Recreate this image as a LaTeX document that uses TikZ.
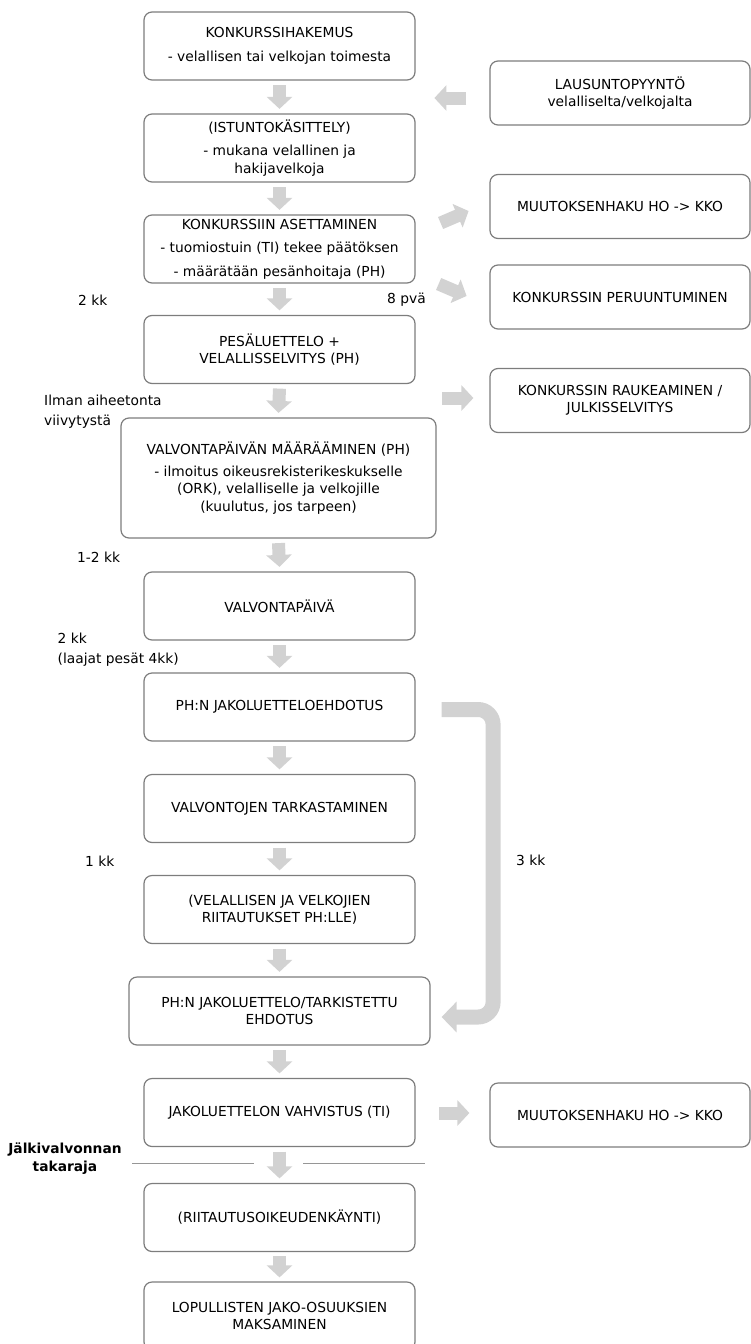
\documentclass[tikz,border=0pt]{standalone}
\usepackage{fontspec}
\setmainfont{DejaVu Sans}
\usetikzlibrary{arrows.meta}

\definecolor{boxline}{RGB}{125,125,125}
\definecolor{arrowfill}{RGB}{210,210,210}
\definecolor{sepline}{RGB}{150,150,150}

\tikzset{
  stage/.style={draw=boxline, line width=1.2pt, rounded corners=8pt,
    minimum width=271pt, minimum height=68pt, inner sep=3pt, align=center,
    font=\fontsize{13.8}{17.5}\selectfont},
  sidebox/.style={stage, minimum width=260pt, minimum height=64pt},
  flow/.style={draw=arrowfill, line width=13pt, -{Triangle[width=25pt,length=12pt]}},
  bracket/.style={draw=arrowfill, line width=15pt, rounded corners=15pt,
    -{Triangle[width=30pt,length=15pt]}},
  timenote/.style={inner sep=0pt, align=left, font=\fontsize{13.8}{20}\selectfont},
}

\begin{document}
\begin{tikzpicture}[x=1pt,y=-1pt]
    \useasboundingbox (0,0) rectangle (751,1344);
    % main column
    \node[stage] (hakemus) at (279.5,46) {KONKURSSIHAKEMUS\\[6pt]- velallisen tai velkojan toimesta};
    \node[stage] (istunto) at (279.5,148) {(ISTUNTOKÄSITTELY)\\[6pt]- mukana velallinen ja\\hakijavelkoja};
    \node[stage] (asettaminen) at (279.5,249) {KONKURSSIIN ASETTAMINEN\\[6pt]- tuomiostuin (TI) tekee päätöksen\\[6pt]- määrätään pesänhoitaja (PH)};
    \node[stage] (pesaluettelo) at (279.5,349.5) {PESÄLUETTELO +\\VELALLISSELVITYS (PH)};
    \node[stage, minimum width=315pt, minimum height=120pt] (valvontamaarays) at (278.5,478) {VALVONTAPÄIVÄN MÄÄRÄÄMINEN (PH)\\[4pt]- ilmoitus oikeusrekisterikeskukselle\\(ORK), velalliselle ja velkojille\\(kuulutus, jos tarpeen)};
    \node[stage] (valvontapaiva) at (279.5,606) {VALVONTAPÄIVÄ};
    \node[stage] (ehdotus) at (279.5,707) {PH:N JAKOLUETTELOEHDOTUS};
    \node[stage] (tarkastus) at (279.5,808.5) {VALVONTOJEN TARKASTAMINEN};
    \node[stage] (riitautus) at (279.5,909.5) {(VELALLISEN JA VELKOJIEN\\RIITAUTUKSET PH:LLE)};
    \node[stage, minimum width=301pt] (jakoluettelo) at (279.5,1011) {PH:N JAKOLUETTELO/TARKISTETTU\\EHDOTUS};
    \node[stage] (vahvistus) at (279.5,1112.5) {JAKOLUETTELON VAHVISTUS (TI)};
    \node[stage] (oikeudenkaynti) at (279.5,1217.5) {(RIITAUTUSOIKEUDENKÄYNTI)};
    \node[stage] (maksaminen) at (279.5,1316) {LOPULLISTEN JAKO-OSUUKSIEN\\MAKSAMINEN};
    % side column
    \node[sidebox] (lausunto) at (620,93) {LAUSUNTOPYYNTÖ\\velalliselta/velkojalta};
    \node[sidebox] (muutos) at (620,206.5) {MUUTOKSENHAKU HO -> KKO};
    \node[sidebox] (peruuntuminen) at (620,297) {KONKURSSIN PERUUNTUMINEN};
    \node[sidebox] (raukeaminen) at (620,400.5) {KONKURSSIN RAUKEAMINEN /\\JULKISSELVITYS};
    \node[sidebox] (muutosjako) at (620,1115) {MUUTOKSENHAKU HO -> KKO};
    % down arrows
    \draw[flow] ([yshift=-4.5pt]hakemus.south) -- ([yshift=4.5pt]istunto.north);
    \draw[flow] ([yshift=-4.5pt]istunto.south) -- ([yshift=4.5pt]asettaminen.north);
    \draw[flow] ([yshift=-4.5pt]asettaminen.south) -- ([yshift=4.5pt]pesaluettelo.north);
    \draw[flow] ([yshift=-4.5pt]pesaluettelo.south) -- ([yshift=4.5pt]valvontamaarays.north);
    \draw[flow] ([yshift=-4.5pt]valvontamaarays.south) -- ([yshift=4.5pt]valvontapaiva.north);
    \draw[flow] ([yshift=-4.5pt]valvontapaiva.south) -- ([yshift=4.5pt]ehdotus.north);
    \draw[flow] ([yshift=-4.5pt]ehdotus.south) -- ([yshift=4.5pt]tarkastus.north);
    \draw[flow] ([yshift=-4.5pt]tarkastus.south) -- ([yshift=4.5pt]riitautus.north);
    \draw[flow] ([yshift=-4.5pt]riitautus.south) -- ([yshift=4.5pt]jakoluettelo.north);
    \draw[flow] ([yshift=-4.5pt]jakoluettelo.south) -- ([yshift=4.5pt]vahvistus.north);
    \draw[flow] ([yshift=-4.5pt]vahvistus.south) -- ([yshift=4.5pt]oikeudenkaynti.north);
    \draw[flow] ([yshift=-4pt]oikeudenkaynti.south) -- ([yshift=4pt]maksaminen.north);
    % side arrows
    \draw[flow] ([shift={(-23pt,-5pt)}]lausunto.west) -- ([shift={(-55pt,-5pt)}]lausunto.west);
    \draw[flow] ([shift={(25pt,26pt)}]asettaminen.east) -- ([shift={(53pt,38pt)}]asettaminen.east);
    \draw[flow] ([shift={(23pt,-35pt)}]asettaminen.east) -- ([shift={(51pt,-47pt)}]asettaminen.east);
    \draw[flow] ([shift={(-47pt,2.5pt)}]raukeaminen.west) -- ([shift={(-16pt,2.5pt)}]raukeaminen.west);
    \draw[flow] ([shift={(-50pt,2pt)}]muutosjako.west) -- ([shift={(-20pt,2pt)}]muutosjako.west);
    % 3 kk loop back
    \draw[bracket] ([shift={(26pt,-2.5pt)}]ehdotus.east) -- ++(51.5,0) |- ([shift={(11pt,-6pt)}]jakoluettelo.east);
    % deadline line
    \draw[sepline, line width=0.8pt] (132,1163) -- (254,1163);
    \draw[sepline, line width=0.8pt] (303,1163) -- (425,1163);
    % time notes
    \node[timenote, anchor=west] (kkkaksi) at (78,300.5) {2 kk};
    \node[timenote, anchor=west] (pvakahdeksan) at (387,300) {8 pvä};
    \node[timenote, anchor=west] (viivytys) at (44,412) {Ilman aiheetonta\\viivytystä};
    \node[timenote, anchor=west] (kkyksikaksi) at (77,557) {1-2 kk};
    \node[timenote, anchor=west] (kklaajat) at (57.5,650) {2 kk\\(laajat pesät 4kk)};
    \node[timenote, anchor=west] (kkyksi) at (85,861) {1 kk};
    \node[timenote, anchor=west] (kkkolme) at (516,860) {3 kk};
    \node[timenote, align=center, font=\fontsize{13.8}{18}\selectfont\bfseries] (takaraja) at (65,1159) {Jälkivalvonnan\\takaraja};
\end{tikzpicture}
\end{document}
